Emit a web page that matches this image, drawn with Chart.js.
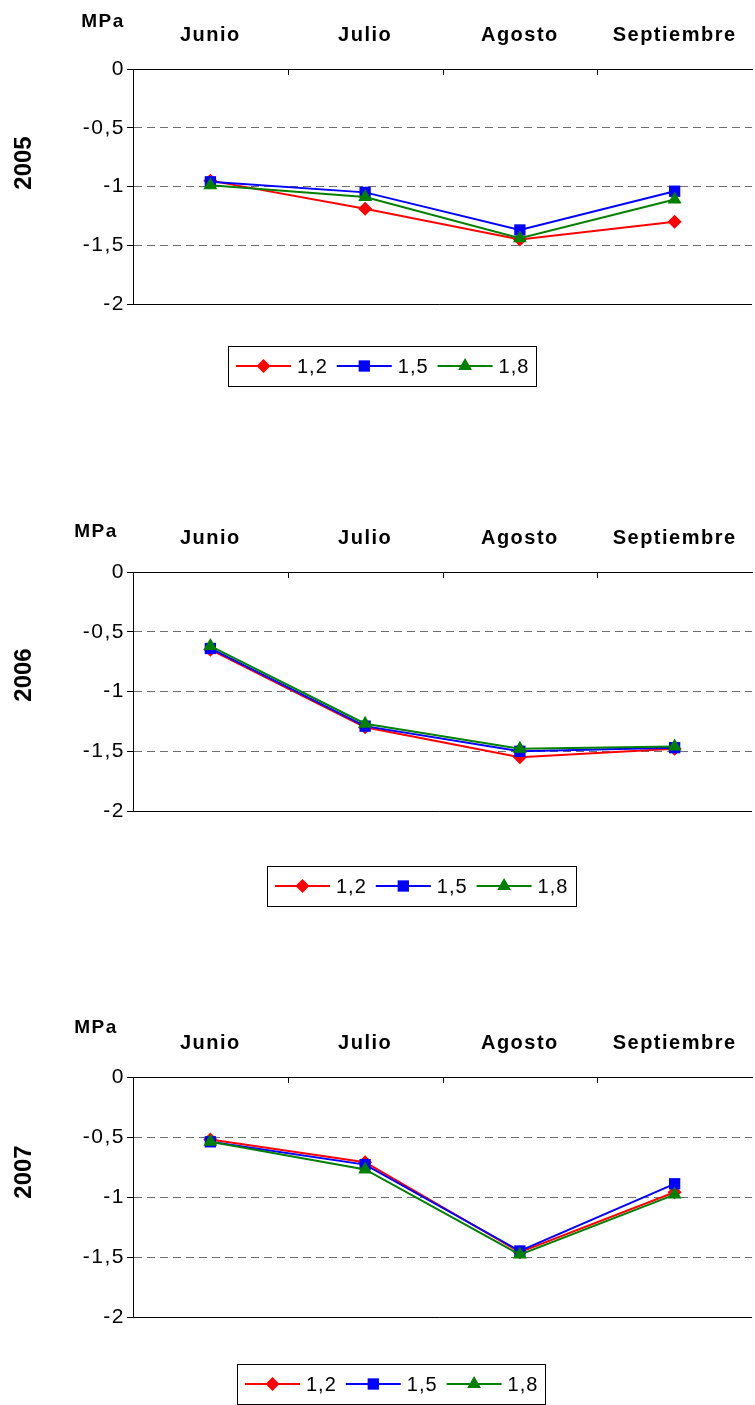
<!DOCTYPE html>
<html>
<head>
<meta charset="utf-8">
<script src="https://cdn.jsdelivr.net/npm/chart.js@4/dist/chart.umd.min.js"></script>
<style>
  html, body { margin: 0; padding: 0; background: #fff; overflow: hidden; }
  body { width: 755px; height: 1405px; position: relative; }
  canvas { position: absolute; left: 0; }
</style>
</head>
<body>
<canvas id="c2005" width="760" height="420" style="top:0px"></canvas>
<canvas id="c2006" width="760" height="420" style="top:503px"></canvas>
<canvas id="c2007" width="760" height="420" style="top:1008px"></canvas>
<script>
// data
var months = ['Junio', 'Julio', 'Agosto', 'Septiembre'];
var seriesNames = ['1,2', '1,5', '1,8'];
var yTicks = [0, -0.5, -1, -1.5, -2];
var unitLabel = 'MPa';

var y2005_12 = [-0.95, -1.19, -1.45, -1.30];
var y2005_15 = [-0.96, -1.05, -1.37, -1.04];
var y2005_18 = [-0.99, -1.09, -1.44, -1.11];

var y2006_12 = [-0.65, -1.30, -1.55, -1.48];
var y2006_15 = [-0.64, -1.29, -1.50, -1.47];
var y2006_18 = [-0.62, -1.27, -1.48, -1.46];

var y2007_12 = [-0.52, -0.71, -1.46, -0.96];
var y2007_15 = [-0.54, -0.73, -1.45, -0.89];
var y2007_18 = [-0.54, -0.77, -1.48, -0.98];

var colors = ['#ff0000', '#0000ff', '#008000'];
var shapes = ['rectRot', 'rect', 'triangle'];
var radii = [7, 8, 8];

var FONT = '"Liberation Sans", Arial, sans-serif';

function drawMarker(ctx, shape, x, y, r, color) {
    ctx.fillStyle = color;
    ctx.beginPath();
    if (shape == 'rectRot') {
        ctx.moveTo(x, y - r); ctx.lineTo(x + r, y); ctx.lineTo(x, y + r); ctx.lineTo(x - r, y);
    } else if (shape == 'rect') {
        var s = r * Math.SQRT1_2;
        ctx.rect(x - s, y - s, 2 * s, 2 * s);
    } else {
        ctx.moveTo(x, y - r);
        ctx.lineTo(x + r * 0.866, y + r * 0.5);
        ctx.lineTo(x - r * 0.866, y + r * 0.5);
    }
    ctx.closePath();
    ctx.fill();
}

var panelDeco = {
    id: 'panelDeco',
    beforeDraw: function(chart) {
        chart.ctx.letterSpacing = '1.5px';
    },
    afterDraw: function(chart, args, opts) {
        var ctx = chart.ctx, a = chart.chartArea;
        var x = chart.scales.x, y = chart.scales.y;
        ctx.save();
        ctx.letterSpacing = '1.5px';
        ctx.strokeStyle = '#000';
        ctx.lineWidth = 1;
        ctx.setLineDash([]);
        ctx.beginPath();
        // small inner ticks between the months on the top axis
        for (var i = 1; i < chart.data.labels.length; i++) {
            var px = Math.round((x.getPixelForValue(i - 1) + x.getPixelForValue(i)) / 2) + 0.5;
            ctx.moveTo(px, a.top);
            ctx.lineTo(px, a.top + 6);
        }
        // solid line at the bottom of the plot
        var by = Math.round(y.getPixelForValue(-2)) + 0.5;
        ctx.moveTo(a.left - 6, by);
        ctx.lineTo(a.right, by);
        ctx.stroke();

        ctx.fillStyle = '#000';
        ctx.textAlign = 'center';
        ctx.textBaseline = 'middle';
        ctx.font = 'bold 19px ' + FONT;
        ctx.fillText(unitLabel, opts.unitX, a.top - opts.unitDy);

        ctx.save();
        ctx.translate(opts.yearX, a.top + opts.yearDy);
        ctx.rotate(-Math.PI / 2);
        ctx.font = 'bold 24px ' + FONT;
        ctx.letterSpacing = '0px';
        ctx.fillText(opts.year, 0, 0);
        ctx.restore();

        // legend box
        var lx = opts.legX, ly = a.bottom + opts.legDy;
        ctx.strokeStyle = '#000';
        ctx.strokeRect(lx + 0.5, ly + 0.5, opts.legW, 40);
        ctx.font = '20px ' + FONT;
        ctx.letterSpacing = '1px';
        ctx.textAlign = 'left';
        var cx = lx + 8, cy = ly + 20;
        chart.data.datasets.forEach(function(ds) {
            ctx.strokeStyle = ds.borderColor;
            ctx.lineWidth = 2;
            ctx.beginPath();
            ctx.moveTo(cx, cy);
            ctx.lineTo(cx + 55, cy);
            ctx.stroke();
            drawMarker(ctx, ds.pointStyle, cx + 27.5, cy, ds.pointRadius, ds.borderColor);
            ctx.fillStyle = '#000';
            ctx.fillText(ds.label, cx + 61, cy + 1);
            cx = cx + 61 + ctx.measureText(ds.label).width + 9;
        });
        ctx.restore();
    }
};

function makeChart(id, values, deco, padBottom) {
    var ctx = document.getElementById(id).getContext('2d');
    var datasets = [];
    for (var i = 0; i < values.length; i++) {
        datasets.push({
            label: seriesNames[i],
            data: values[i],
            borderColor: colors[i],
            backgroundColor: colors[i],
            pointBackgroundColor: colors[i],
            pointBorderColor: colors[i],
            pointStyle: shapes[i],
            pointRadius: radii[i],
            pointBorderWidth: 0,
            borderWidth: 2,
            tension: 0,
            fill: false,
            order: values.length - i
        });
    }
    return new Chart(ctx, {
        type: 'line',
        data: { labels: months, datasets: datasets },
        options: {
            responsive: false,
            animation: false,
            layout: { padding: { top: 0, left: 0, right: 3, bottom: padBottom } },
            plugins: {
                legend: { display: false },
                tooltip: { enabled: false },
                panelDeco: deco
            },
            scales: {
                x: {
                    position: 'top',
                    offset: true,
                    grid: { display: false, drawTicks: false },
                    border: { display: true, color: '#000', width: 1 },
                    ticks: {
                        color: '#000',
                        padding: 22,
                        autoSkip: false,
                        maxRotation: 0,
                        font: { family: FONT, size: 20, weight: 'bold' }
                    },
                    afterFit: function(s) { s.height = 69; }
                },
                y: {
                    min: -2,
                    max: 0,
                    afterBuildTicks: function(s) {
                        s.ticks = yTicks.map(function(v) { return { value: v }; });
                    },
                    grid: {
                        color: '#707070',
                        lineWidth: 1,
                        tickLength: 6,
                        tickColor: '#000',
                        tickBorderDash: []
                    },
                    border: { display: true, color: '#000', width: 1, dash: [8, 5] },
                    ticks: {
                        color: '#000',
                        padding: 2,
                        font: { family: FONT, size: 21 },
                        callback: function(v) { return String(v).replace('.', ','); }
                    },
                    afterFit: function(s) { s.width = 133; }
                }
            }
        },
        plugins: [panelDeco]
    });
}

makeChart('c2005', [y2005_12, y2005_15, y2005_18],
    { year: '2005', unitX: 103, unitDy: 47, yearX: 24, yearDy: 94, legX: 228, legDy: 42, legW: 308 }, 116);
makeChart('c2006', [y2006_12, y2006_15, y2006_18],
    { year: '2006', unitX: 96, unitDy: 40, yearX: 24, yearDy: 103, legX: 267, legDy: 55, legW: 309 }, 112);
makeChart('c2007', [y2007_12, y2007_15, y2007_18],
    { year: '2007', unitX: 96, unitDy: 49, yearX: 24, yearDy: 95, legX: 237, legDy: 47, legW: 308 }, 111);
</script>
</body>
</html>
